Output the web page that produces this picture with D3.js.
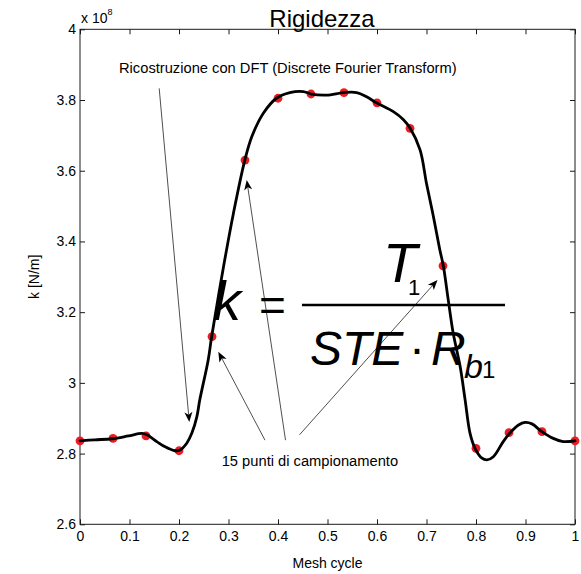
<!DOCTYPE html>
<html>
<head>
<meta charset="utf-8">
<script src="https://cdn.jsdelivr.net/npm/d3@7"></script>
<style>
  body { margin: 0; background: #fff; }
  svg { display: block; }
  text { font-family: "Liberation Sans", Arial, sans-serif; fill: #000; }
</style>
</head>
<body>
<svg id="chart" width="581" height="574"></svg>
<script>
// Sampled mesh stiffness (units of 1e8 N/m) over one mesh cycle; last sample closes the period
const sampleX = [0, 0.0667, 0.1333, 0.2, 0.2667, 0.3333, 0.4, 0.4667, 0.5333, 0.6, 0.6667, 0.7333, 0.8, 0.8667, 0.9333, 1];
const sampleK = [2.836, 2.843, 2.850, 2.808, 3.131, 3.630, 3.805, 3.817, 3.821, 3.792, 3.720, 3.331, 2.815, 2.859, 2.862, 2.836];

// DFT reconstruction of the stiffness curve
const curveX = [0, 0.030, 0.065, 0.098, 0.125, 0.135, 0.155, 0.172, 0.192, 0.202, 0.216, 0.226, 0.236, 0.242,
  0.259, 0.266, 0.290, 0.310, 0.333, 0.347, 0.370, 0.397, 0.424, 0.451, 0.467, 0.498, 0.533, 0.559, 0.579,
  0.599, 0.633, 0.653, 0.667, 0.687, 0.700, 0.714, 0.727, 0.734, 0.744, 0.754, 0.768, 0.778, 0.788, 0.798,
  0.812, 0.822, 0.835, 0.855, 0.869, 0.886, 0.899, 0.913, 0.933, 0.956, 0.976, 1];
const curveK = [2.836, 2.839, 2.842, 2.850, 2.857, 2.853, 2.834, 2.819, 2.808, 2.810, 2.830, 2.858, 2.904, 2.952,
  3.065, 3.131, 3.329, 3.480, 3.630, 3.696, 3.762, 3.805, 3.821, 3.824, 3.817, 3.814, 3.821, 3.821, 3.809,
  3.792, 3.767, 3.745, 3.720, 3.659, 3.564, 3.470, 3.376, 3.331, 3.234, 3.140, 3.046, 2.952, 2.857, 2.815,
  2.787, 2.782, 2.791, 2.834, 2.859, 2.881, 2.888, 2.884, 2.862, 2.843, 2.834, 2.836];

const xTicks = [0, 0.1, 0.2, 0.3, 0.4, 0.5, 0.6, 0.7, 0.8, 0.9, 1];
const xTickLabels = ["0", "0.1", "0.2", "0.3", "0.4", "0.5", "0.6", "0.7", "0.8", "0.9", "1"];
const yTicks = [2.6, 2.8, 3, 3.2, 3.4, 3.6, 3.8, 4];
const yTickLabels = ["2.6", "2.8", "3", "3.2", "3.4", "3.6", "3.8", "4"];

const title = "Rigidezza";
const xTitle = "Mesh cycle";
const yTitle = "k [N/m]";
const dftNote = "Ricostruzione con DFT (Discrete Fourier Transform)";
const sampleNote = "15 punti di campionamento";

// annotation anchors, in data units: [fromX, fromK, toX, toK]
const dftArrow = [0.160, 3.833, 0.2208, 2.889];
const sampleArrows = [
  [0.3737, 2.838, 0.2794, 3.088],
  [0.4152, 2.838, 0.3368, 3.574],
  [0.4434, 2.853, 0.7222, 3.291]
];
const dftNoteAt = [0.0788, 3.877];
const sampleNoteAt = [0.2863, 2.766];
const formulaAt = [0.2727, 3.178];

const W = 581, H = 574;
const m = { left: 80, top: 29.3, right: 6, bottom: 49.7 };
const iw = W - m.left - m.right, ih = H - m.top - m.bottom;

const svg = d3.select("#chart");
const g = svg.append("g").attr("transform", `translate(${m.left},${m.top})`);

const x = d3.scaleLinear().domain([0, 1]).range([0, iw]);
const y = d3.scaleLinear().domain([2.6, 4]).range([ih, 0]);

// axes with inward ticks on all four sides
const axisColor = "#1a1a1a";
function styleAxis(sel) {
  sel.select(".domain").remove();
  sel.selectAll(".tick line").attr("stroke", axisColor).attr("stroke-width", 1);
  sel.selectAll(".tick text").attr("font-size", 14).attr("fill", "#000")
    .attr("font-family", "'Liberation Sans', Arial, sans-serif");
}
g.append("g").attr("transform", `translate(0,${ih})`)
  .call(d3.axisBottom(x).tickValues(xTicks).tickFormat((d, i) => xTickLabels[i]).tickSizeInner(-5).tickSizeOuter(0).tickPadding(7))
  .call(styleAxis);
g.append("g")
  .call(d3.axisTop(x).tickValues(xTicks).tickFormat("").tickSizeInner(-5).tickSizeOuter(0))
  .call(styleAxis);
g.append("g")
  .call(d3.axisLeft(y).tickValues(yTicks).tickFormat((d, i) => yTickLabels[i]).tickSizeInner(-5).tickSizeOuter(0).tickPadding(4))
  .call(styleAxis);
g.append("g").attr("transform", `translate(${iw},0)`)
  .call(d3.axisRight(y).tickValues(yTicks).tickFormat("").tickSizeInner(-5).tickSizeOuter(0))
  .call(styleAxis);
g.append("rect").attr("width", iw).attr("height", ih)
  .attr("fill", "none").attr("stroke", axisColor).attr("stroke-width", 1);

// exponent marker
const expo = g.append("text").attr("x", 1).attr("y", -6).attr("font-size", 14);
expo.append("tspan").text("x 10");
expo.append("tspan").attr("font-size", 9).attr("dy", -8).text("8");

// titles
svg.append("text").attr("x", 322).attr("y", 27).attr("text-anchor", "middle")
  .attr("font-size", 24).text(title);
svg.append("text").attr("x", m.left + iw / 2).attr("y", 568).attr("text-anchor", "middle")
  .attr("font-size", 14).text(xTitle);
svg.append("text").attr("transform", `translate(39,${m.top + ih / 2}) rotate(-90)`)
  .attr("text-anchor", "middle").attr("font-size", 14).text(yTitle);

// sample points (drawn beneath the reconstruction)
g.append("g").selectAll("circle").data(sampleX).join("circle")
  .attr("cx", d => x(d)).attr("cy", (d, i) => y(sampleK[i])).attr("r", 4.4)
  .attr("fill", "#ec1c24");

// reconstructed curve
const line = d3.line().x((d, i) => x(curveX[i])).y(d => y(d)).curve(d3.curveCatmullRom.alpha(0.5));
g.append("path").datum(curveK).attr("d", line)
  .attr("fill", "none").attr("stroke", "#000").attr("stroke-width", 2.8)
  .attr("stroke-linejoin", "round").attr("stroke-linecap", "round");

// annotation arrows
function arrow(a) {
  const x0 = x(a[0]), y0 = y(a[1]), x1 = x(a[2]), y1 = y(a[3]);
  const dx = x1 - x0, dy = y1 - y0, L = Math.hypot(dx, dy);
  const ux = dx / L, uy = dy / L, px = -uy, py = ux;
  const len = 10, hw = 4, notch = 2.5;
  g.append("line").attr("x1", x0).attr("y1", y0)
    .attr("x2", x1 - ux * (len - notch)).attr("y2", y1 - uy * (len - notch))
    .attr("stroke", "#222").attr("stroke-width", 0.8);
  g.append("path")
    .attr("d", `M${x1},${y1}L${x1 - ux * len + px * hw},${y1 - uy * len + py * hw}` +
      `L${x1 - ux * (len - notch)},${y1 - uy * (len - notch)}` +
      `L${x1 - ux * len - px * hw},${y1 - uy * len - py * hw}Z`)
    .attr("fill", "#000");
}
arrow(dftArrow);
sampleArrows.forEach(arrow);

g.append("text").attr("x", x(dftNoteAt[0])).attr("y", y(dftNoteAt[1]))
  .attr("font-size", 14.7).text(dftNote);
g.append("text").attr("x", x(sampleNoteAt[0])).attr("y", y(sampleNoteAt[1]))
  .attr("font-size", 14.7).text(sampleNote);

// stiffness formula k = T1 / (STE · Rb1)
const f = g.append("g").attr("transform", `translate(${x(formulaAt[0])},${y(formulaAt[1])})`);
const serif = "'Liberation Serif', 'Times New Roman', serif";
f.append("text").attr("x", -2).attr("y", 0).attr("font-size", 56).attr("font-style", "italic").text("k");
f.append("text").attr("x", 57.5).attr("y", 1).attr("text-anchor", "middle").attr("font-size", 46).text("=");
f.append("line").attr("x1", 87).attr("x2", 290).attr("y1", -15).attr("y2", -15)
  .attr("stroke", "#000").attr("stroke-width", 2.5);
f.append("text").attr("x", 168).attr("y", -38).attr("font-size", 56).attr("font-style", "italic").text("T");
f.append("text").attr("x", 193).attr("y", -25).attr("font-size", 22).attr("font-family", serif).text("1");
f.append("text").attr("x", 95).attr("y", 45).attr("font-size", 48).attr("font-style", "italic").text("STE");
f.append("text").attr("x", 202).attr("y", 45).attr("text-anchor", "middle").attr("font-size", 48).text("\u00B7");
f.append("text").attr("x", 216).attr("y", 45).attr("font-size", 48).attr("font-style", "italic").text("R");
f.append("text").attr("x", 249).attr("y", 58.5).attr("font-size", 34).attr("font-style", "italic").attr("font-family", serif).text("b");
f.append("text").attr("x", 267).attr("y", 58).attr("font-size", 24).attr("font-family", serif).text("1");
</script>
</body>
</html>
